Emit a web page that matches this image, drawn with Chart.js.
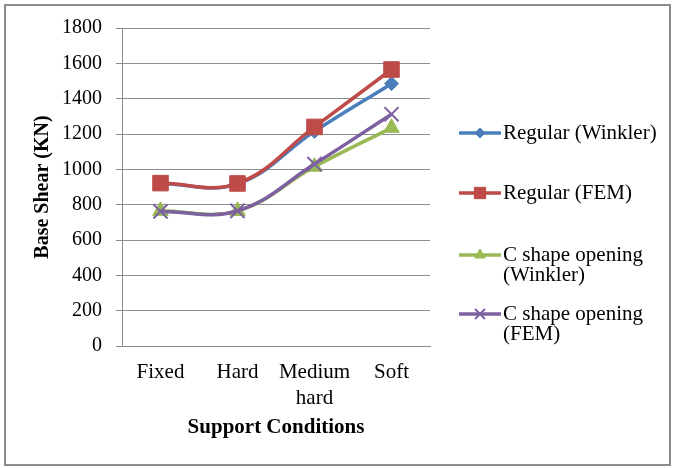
<!DOCTYPE html>
<html>
<head>
<meta charset="utf-8">
<script src="https://cdn.jsdelivr.net/npm/chart.js@4"></script>
<style>
  html, body { margin: 0; padding: 0; background: #fff; }
  #wrap { width: 674px; height: 468px; }
</style>
</head>
<body>
<div id="wrap"><canvas id="chart" width="674" height="468"></canvas></div>
<script>
const categories = [ "Fixed", "Hard", ["Medium", "hard"], "Soft" ];
const yTicks = [ 0, 200, 400, 600, 800, 1000, 1200, 1400, 1600, 1800 ];

const regularWinkler = [ 920, 918, 1215, 1485 ];
const regularFem     = [ 922, 920, 1240, 1565 ];
const cShapeWinkler  = [ 765, 765, 1015, 1235 ];
const cShapeFem      = [ 762, 765, 1030, 1312 ];

const seriesNames = [ ["Regular (Winkler)"], ["Regular (FEM)"], ["C shape opening", "(Winkler)"], ["C shape opening", "(FEM)"] ];

const serif = "'Liberation Serif', 'Times New Roman', serif";

// legend drawn by hand, Excel puts it on the right with wrapped names
const sideLegend = {
    id: 'sideLegend',
    afterDraw(chart) {
        const ctx = chart.ctx;
        ctx.save();
        ctx.strokeStyle = '#8c8c8c';
        ctx.lineWidth = 2;
        ctx.strokeRect(5, 5, 665, 460);

        const rows = [ 133, 193, 255, 314 ];
        const x0 = chart.chartArea.right + 29;
        [0, 1, 2, 3].forEach((i) => {
            const ds = chart.data.datasets[i];
            const y = rows[i];
            ctx.strokeStyle = ds.borderColor;
            ctx.lineWidth = 3.5;
            ctx.beginPath();
            ctx.moveTo(x0, y);
            ctx.lineTo(x0 + 42, y);
            ctx.stroke();
            ctx.fillStyle = ds.pointBackgroundColor;
            ctx.strokeStyle = ds.pointBorderColor;
            ctx.lineWidth = ds.pointBorderWidth;
            Chart.helpers.drawPoint(ctx, { pointStyle: ds.pointStyle, radius: ds.legendRadius, rotation: 0, borderWidth: ds.pointBorderWidth }, x0 + 21, y);
            ctx.fillStyle = '#000';
            ctx.font = '21px ' + serif;
            ctx.textBaseline = 'middle';
            ctx.textAlign = 'left';
            seriesNames[i].forEach((line, k) => ctx.fillText(line, x0 + 44, y + k * 20));
        });
        ctx.restore();
    }
};

new Chart(document.getElementById('chart').getContext('2d'), {
    type: 'line',
    data: {
        labels: categories,
        datasets: [
            {
                label: seriesNames[0].join(' '),
                data: regularWinkler,
                borderColor: '#4A7EBB',
                pointBackgroundColor: '#4A7EBB',
                pointBorderColor: '#4A7EBB',
                pointBorderWidth: 1,
                pointStyle: 'rectRot',
                pointRadius: 7,
                legendRadius: 5,
                order: 4
            },
            {
                label: seriesNames[1].join(' '),
                data: regularFem,
                borderColor: '#BE4B48',
                pointBackgroundColor: '#BE4B48',
                pointBorderColor: '#BE4B48',
                pointBorderWidth: 1,
                pointStyle: 'rect',
                pointRadius: 11,
                legendRadius: 8,
                order: 3
            },
            {
                label: seriesNames[2].join(' '),
                data: cShapeWinkler,
                borderColor: '#98B954',
                pointBackgroundColor: '#98B954',
                pointBorderColor: '#98B954',
                pointBorderWidth: 1,
                pointStyle: 'triangle',
                pointRadius: 9,
                legendRadius: 6,
                order: 2
            },
            {
                label: seriesNames[3].join(' '),
                data: cShapeFem,
                borderColor: '#7D60A0',
                pointBackgroundColor: '#7D60A0',
                pointBorderColor: '#7D60A0',
                pointBorderWidth: 2,
                pointStyle: 'crossRot',
                pointRadius: 10,
                legendRadius: 7,
                order: 1
            }
        ]
    },
    options: {
        responsive: false,
        animation: false,
        layout: { padding: { left: 10, top: 28, right: 244, bottom: 18 } },
        elements: {
            line: { borderWidth: 3.5, tension: 0.4, fill: false },
            point: { hoverRadius: 0 }
        },
        plugins: {
            legend: { display: false },
            tooltip: { enabled: false }
        },
        scales: {
            x: {
                offset: true,
                grid: { display: false, drawTicks: false },
                border: { display: true, color: '#8c8c8c', width: 1 },
                ticks: { color: '#000', font: { family: serif, size: 21, lineHeight: 1.25 }, padding: 13, maxRotation: 0, autoSkip: false },
                title: { display: true, text: 'Support Conditions', color: '#000', font: { family: serif, size: 21, weight: 'bold' }, padding: { top: 0, bottom: 10 } },
                afterFit(scale) { scale.height = 104; }
            },
            y: {
                min: 0,
                max: 1800,
                afterBuildTicks(scale) { scale.ticks = yTicks.map(v => ({ value: v })); },
                grid: { color: '#8c8c8c', lineWidth: 1, drawTicks: true, tickLength: 6 },
                border: { display: true, color: '#8c8c8c', width: 1 },
                ticks: { color: '#000', font: { family: serif, size: 20 }, padding: 14, callback: (v) => String(v) },
                title: { display: true, text: 'Base Shear (KN)', color: '#000', font: { family: serif, size: 20, weight: 'bold' }, padding: { top: 21, bottom: 0 } },
                afterFit(scale) { scale.width = 112; }
            }
        }
    },
    plugins: [ sideLegend ]
});
</script>
</body>
</html>
